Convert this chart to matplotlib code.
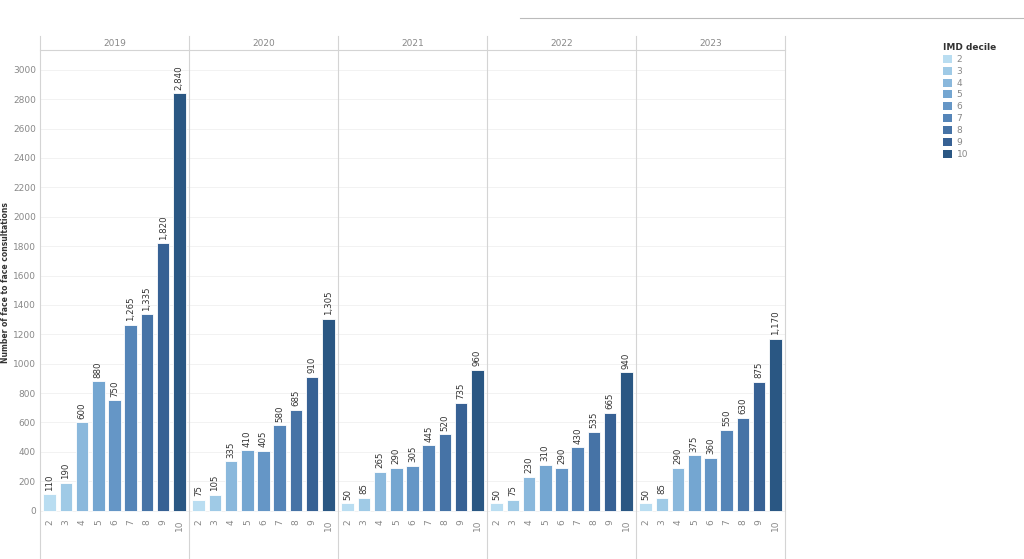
import matplotlib
matplotlib.use("Agg")
import matplotlib.pyplot as plt
from matplotlib.patches import Patch
from matplotlib.lines import Line2D

years = ["2019", "2020", "2021", "2022", "2023"]
deciles = ["2", "3", "4", "5", "6", "7", "8", "9", "10"]
values = {
    "2019": [110, 190, 600, 880, 750, 1265, 1335, 1820, 2840],
    "2020": [75, 105, 335, 410, 405, 580, 685, 910, 1305],
    "2021": [50, 85, 265, 290, 305, 445, 520, 735, 960],
    "2022": [50, 75, 230, 310, 290, 430, 535, 665, 940],
    "2023": [50, 85, 290, 375, 360, 550, 630, 875, 1170],
}
colors = ["#b9ddf1", "#9fcae6", "#8ab8dc", "#74a6d1", "#6596c6", "#5585b8",
          "#4673a6", "#376194", "#2a5783"]

W, H = 1024, 559
fig = plt.figure(figsize=(W/100, H/100), dpi=100)
x0, x1 = 40, 785
ytop, ybot = 50, 515
pw = (x1 - x0) / 5
gridc = "#d4d4d4"
for i, y in enumerate(years):
    ax = fig.add_axes([(x0 + i*pw)/W, 1 - ybot/H, pw/W, (ybot-ytop)/H])
    xs = range(len(deciles))
    ax.bar(xs, values[y], width=0.78, color=colors, edgecolor="white", linewidth=0.6)
    ax.set_xlim(-0.6, 8.6)
    ax.set_ylim(-30, 3135)
    ax.set_yticks(range(0, 3001, 200))
    ax.grid(axis="y", color="#f0f0f0", linewidth=0.6)
    ax.set_axisbelow(True)
    for s in ax.spines.values():
        s.set_visible(False)
    ax.set_xticks(list(xs))
    ax.set_xticklabels(deciles, rotation=90, fontsize=6.5, color="#888888")
    ax.tick_params(length=0, pad=3)
    if i == 0:
        ax.tick_params(axis="y", labelsize=6.5, labelcolor="#888888")
        ax.set_ylabel("Number of face to face consultations", fontsize=5.5,
                      color="#333333", fontweight="bold", labelpad=2)
    else:
        ax.set_yticklabels([])
    for xi, v in zip(xs, values[y]):
        ax.text(xi, v + 25, f"{v:,}", rotation=90, ha="center", va="bottom", fontsize=6.2, color="#333333")
    fig.text((x0 + (i+0.5)*pw)/W, 1 - 43/H, y, ha="center", va="center", fontsize=6.5, color="#888888")

fig.add_artist(Line2D([x0/W, x0/W], [0, 1-36/H], color=gridc, linewidth=0.8))
for i in range(1, 6):
    xx = (x0 + i*pw)/W
    fig.add_artist(Line2D([xx, xx], [0, 1-36/H], color=gridc, linewidth=0.8))
fig.add_artist(Line2D([x0/W, x1/W], [1-50/H, 1-50/H], color=gridc, linewidth=0.8))
fig.add_artist(Line2D([520/W, 1], [1-18/H, 1-18/H], color="#bbbbbb", linewidth=0.8))

handles = [Patch(facecolor=c, edgecolor="none") for c in colors]
leg = fig.legend(handles, deciles, title="IMD decile", loc="upper left",
                 bbox_to_anchor=(935/W, 1-35/H), frameon=False, fontsize=6.5,
                 title_fontsize=6.5, handlelength=1.0, handleheight=1.0,
                 labelspacing=0.3, handletextpad=0.5, alignment="left")
leg.get_title().set_fontweight("bold")
leg.get_title().set_color("#333333")
for t in leg.get_texts():
    t.set_color("#888888")
fig.savefig("out.png", dpi=100)
